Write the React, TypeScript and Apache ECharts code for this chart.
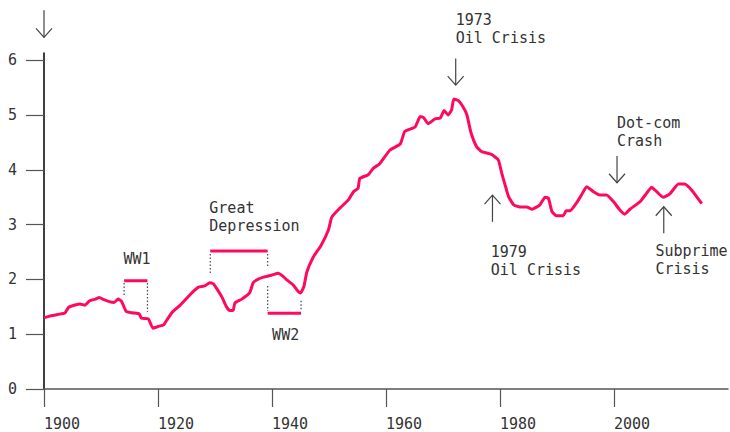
import React, { useEffect, useRef } from "react";
import * as echarts from "echarts";

// ---- data ----
const years = [
  1900, 1901, 1902, 1903, 1903.7, 1904.3, 1905, 1906.3, 1907.2, 1908, 1909, 1909.7,
  1910.5, 1911.6, 1912.3, 1913, 1913.6, 1914.4, 1915.4, 1916.7, 1917.1, 1918.3, 1919.1,
  1920, 1921, 1921.5, 1922.5, 1923.9, 1925, 1926.2, 1927.1, 1928.2, 1929.1, 1929.7,
  1930.5, 1931.2, 1932, 1932.6, 1933.2, 1933.5, 1934.7, 1936.1, 1936.7, 1937.5, 1938.5,
  1940, 1941.1, 1942, 1942.6, 1943.7, 1944.6, 1945, 1945.6, 1946.1, 1947.2, 1948.6,
  1949.9, 1950.5, 1951.9, 1953.4, 1954.3, 1955.1, 1955.4, 1956.9, 1957.8, 1958.9,
  1960.7, 1962.5, 1963.3, 1965.1, 1966, 1966.6, 1967.4, 1968.6, 1969.5, 1970.2, 1970.9,
  1971.5, 1971.9, 1972.7, 1973.5, 1974.2, 1974.9, 1975.9, 1976.8, 1978.5, 1979.7,
  1980.3, 1980.9, 1981.5, 1982.4, 1983.5, 1984.7, 1985.6, 1987, 1987.9, 1988.5, 1989.1,
  1989.9, 1991.1, 1991.6, 1992.3, 1993.4, 1994.3, 1995.2, 1996.4, 1997.5, 1998.7,
  1999.9, 2001, 2001.9, 2002.8, 2004.6, 2005.7, 2006.6, 2007.5, 2008.6, 2009.8, 2011.3,
  2012.4, 2013.6, 2015.4,
];
const values = [
  1.3, 1.33, 1.35, 1.37, 1.39, 1.49, 1.52, 1.55, 1.53, 1.61, 1.64, 1.67,
  1.63, 1.59, 1.58, 1.64, 1.6, 1.42, 1.39, 1.37, 1.29, 1.28, 1.11,
  1.14, 1.17, 1.25, 1.4, 1.53, 1.65, 1.78, 1.86, 1.88, 1.94, 1.92,
  1.8, 1.68, 1.5, 1.43, 1.44, 1.57, 1.64, 1.76, 1.94, 2.0, 2.04,
  2.08, 2.11, 2.05, 1.99, 1.9, 1.78, 1.75, 1.87, 2.13, 2.4, 2.62,
  2.9, 3.14, 3.3, 3.45, 3.6, 3.66, 3.84, 3.91, 4.03, 4.11,
  4.36, 4.47, 4.7, 4.78, 4.97, 4.95, 4.84, 4.93, 4.94, 5.08, 5.0,
  5.09, 5.29, 5.26, 5.15, 5.0, 4.68, 4.42, 4.33, 4.28, 4.18,
  3.94, 3.72, 3.51, 3.36, 3.32, 3.32, 3.28, 3.36, 3.5, 3.48, 3.24,
  3.16, 3.16, 3.25, 3.25, 3.39, 3.54, 3.69, 3.6, 3.54, 3.54,
  3.42, 3.27, 3.19, 3.28, 3.42, 3.57, 3.68, 3.6, 3.5, 3.56, 3.74,
  3.74, 3.63, 3.38,
];
const xTicks = [1900, 1920, 1940, 1960, 1980, 2000];
const yTicks = [0, 1, 2, 3, 4, 5, 6];

// period brackets (data coordinates)
const periodLabels = [["WW1"], ["Great", "Depression"], ["WW2"]];
const periodStart = [1914.06, 1929.17, 1939.24];
const periodEnd = [1918.15, 1939.24, 1945.1];
const periodBar = [1.975, 2.517, 1.381];
const leftDot = [[1.933, 1.714], [2.462, 2.079], [1.879, 1.423]];
const rightDot = [[1.933, 1.41], [2.462, 2.22], [1.61, 1.423]];
const periodLabelX = [1913.94, 1929.0, 1940.02];
const periodLabelTop = [2.535, 3.474, 1.149];

// event arrows (data coordinates)
const eventLabels = [[], ["1973", "Oil Crisis"], ["1979", "Oil Crisis"], ["Dot-com", "Crash"], ["Subprime", "Crisis"]];
const arrowX = [1900, 1972.23, 1978.68, 2000.53, 2008.73];
const arrowTail = [6.912, 6.031, 3.051, 4.25, 2.84];
const arrowTip = [6.414, 5.544, 3.538, 3.763, 3.325];
const eventLabelX = [1900, 1972.23, 1978.38, 2000.53, 2007.26];
const eventLabelTop = [0, 6.894, 2.668, 5.025, 2.681];

const LINE = "#ff0a5a";
const INK = "#444";
const TEXT = "#333";
const FAMILY = '"DejaVu Sans Mono", monospace';
const FONT = `15px ${FAMILY}`;

export default function App() {
  const ref = useRef<HTMLDivElement>(null);
  useEffect(() => {
    const chart = echarts.init(ref.current!, null, { renderer: "svg" });
    chart.setOption({
      animation: false,
      backgroundColor: "#fff",
      grid: { left: 44, right: 2, top: 53, bottom: 43 },
      xAxis: {
        type: "value",
        min: 1900,
        max: 2020,
        axisLine: { show: true, lineStyle: { color: "#555", width: 1.5 } },
        axisTick: { show: true, length: 18, customValues: xTicks, lineStyle: { color: "#555", width: 1.2 } },
        axisLabel: {
          customValues: xTicks,
          formatter: (v: number) => String(v),
          align: "left",
          margin: 27,
          color: TEXT,
          fontFamily: FAMILY,
          fontSize: 15,
        },
        splitLine: { show: false },
      },
      yAxis: {
        type: "value",
        min: 0,
        max: 6.13,
        axisLine: { show: true, lineStyle: { color: "#000", width: 1.5 } },
        axisTick: { show: true, length: 18, customValues: yTicks, lineStyle: { color: "#555", width: 1.2 } },
        axisLabel: {
          customValues: yTicks,
          formatter: (v: number) => String(v),
          margin: 27,
          color: TEXT,
          fontFamily: FAMILY,
          fontSize: 15,
        },
        splitLine: { show: false },
      },
      series: [
        {
          type: "line",
          data: years.map((y, i) => [y, values[i]]),
          showSymbol: false,
          smooth: 0.15,
          lineStyle: { color: LINE, width: 3 },
          itemStyle: { color: LINE },
          z: 3,
        },
      ],
    });

    const px = (x: number, y: number) =>
      chart.convertToPixel({ gridIndex: 0 } as any, [x, y]) as number[];

    const els: any[] = [];
    const addText = (lines: string[], x: number, top: number) => {
      if (!lines.length) return;
      const p = px(x, top);
      els.push({
        type: "text",
        x: p[0],
        y: p[1],
        z: 10,
        style: {
          text: lines.join("\n"),
          font: FONT,
          fill: TEXT,
          lineHeight: 18,
          align: "left",
          verticalAlign: "top",
        },
      });
    };

    periodLabels.forEach((lab, i) => {
      const a = px(periodStart[i], periodBar[i]);
      const b = px(periodEnd[i], periodBar[i]);
      els.push({
        type: "line",
        z: 9,
        shape: { x1: a[0], y1: a[1], x2: b[0], y2: b[1] },
        style: { stroke: LINE, lineWidth: 3 },
      });
      const l0 = px(periodStart[i], leftDot[i][0]);
      const l1 = px(periodStart[i], leftDot[i][1]);
      const r0 = px(periodEnd[i], rightDot[i][0]);
      const r1 = px(periodEnd[i], rightDot[i][1]);
      [[l0, l1], [r0, r1]].forEach(([s, e]) =>
        els.push({
          type: "line",
          z: 9,
          shape: { x1: s[0], y1: s[1], x2: e[0], y2: e[1] },
          style: { stroke: INK, lineWidth: 1.2, lineDash: [1.5, 2] },
        })
      );
      addText(lab, periodLabelX[i], periodLabelTop[i]);
    });

    eventLabels.forEach((lab, i) => {
      const t = px(arrowX[i], arrowTail[i]);
      const h = px(arrowX[i], arrowTip[i]);
      const dir = h[1] > t[1] ? -1 : 1;
      els.push({
        type: "line",
        z: 9,
        shape: { x1: t[0], y1: t[1], x2: h[0], y2: h[1] },
        style: { stroke: INK, lineWidth: 1.2 },
      });
      els.push({
        type: "polyline",
        z: 9,
        shape: {
          points: [
            [h[0] - 8, h[1] + dir * 9],
            [h[0], h[1]],
            [h[0] + 8, h[1] + dir * 9],
          ],
        },
        style: { stroke: INK, lineWidth: 1.2, fill: null },
      });
      addText(lab, eventLabelX[i], eventLabelTop[i]);
    });

    chart.setOption({ graphic: { elements: els } });
    return () => chart.dispose();
  }, []);

  return (
    <div
      ref={ref}
      style={{ position: "absolute", left: 0, top: 0, width: 730, height: 432, background: "#fff" }}
    />
  );
}
